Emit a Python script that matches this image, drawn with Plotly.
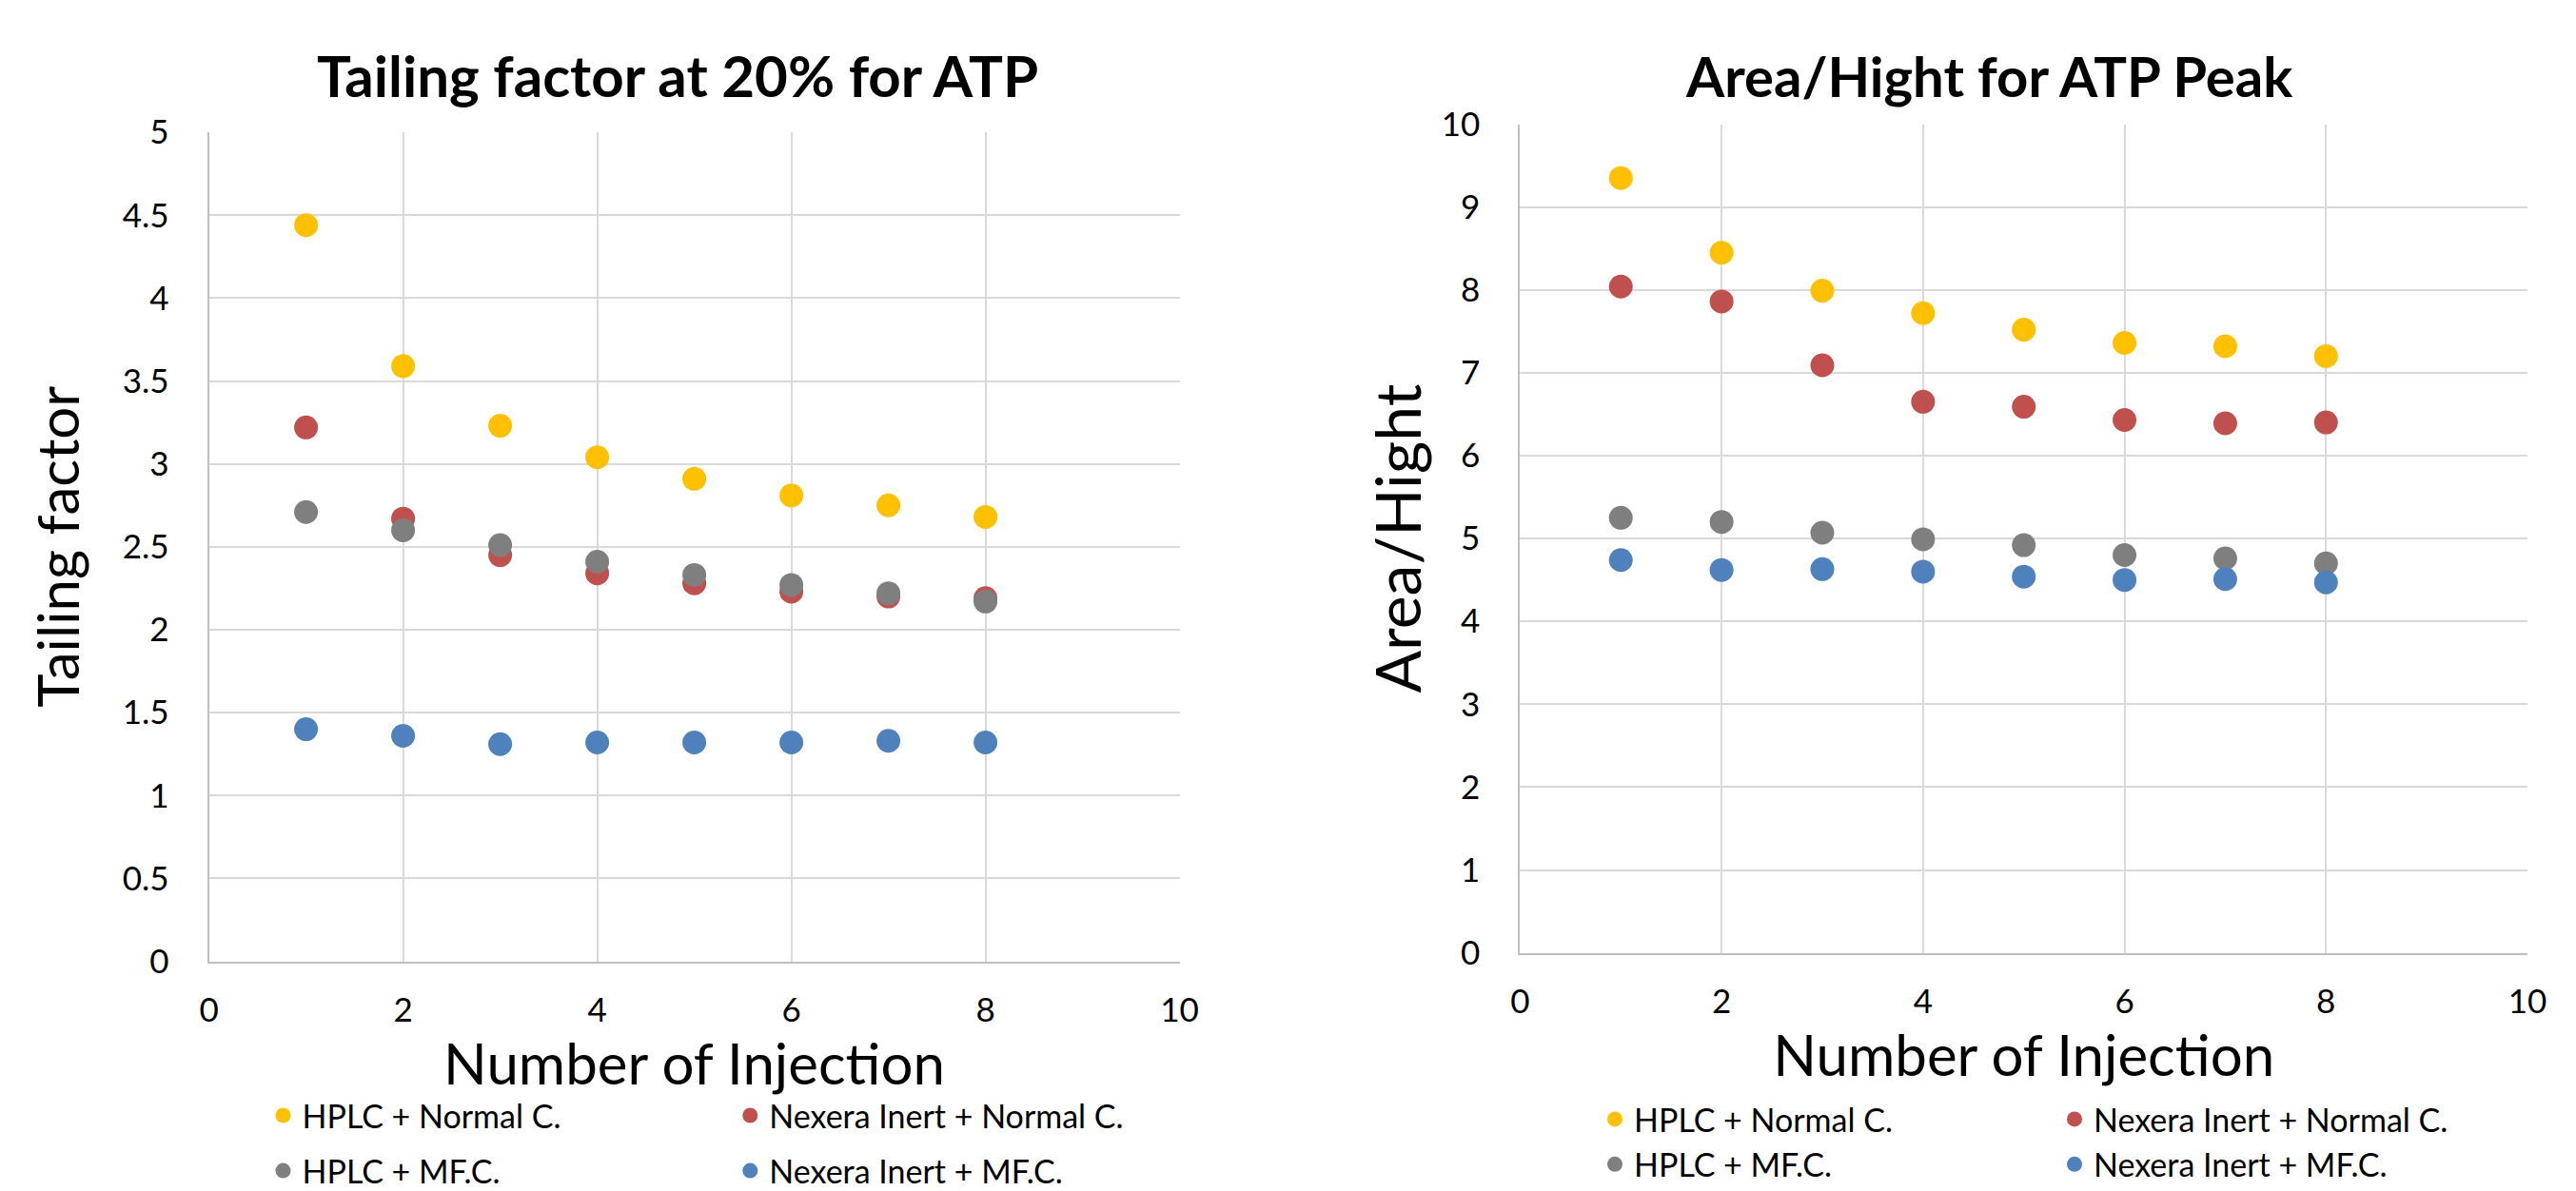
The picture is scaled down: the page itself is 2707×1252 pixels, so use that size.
import plotly.graph_objects as go

W, H = 2707, 1252

injections = [1, 2, 3, 4, 5, 6, 7, 8]
series_names = ["HPLC + Normal C.", "Nexera Inert + Normal C.",
                "HPLC + MF.C.", "Nexera Inert + MF.C."]
series_colors = ["#FFC000", "#C0504D", "#7F7F7F", "#4F81BD"]

# Left chart: Tailing factor at 20% for ATP
tailing_hplc_normal = [4.44, 3.59, 3.23, 3.04, 2.91, 2.81, 2.75, 2.68]
tailing_nexera_normal = [3.22, 2.67, 2.45, 2.34, 2.28, 2.23, 2.20, 2.19]
tailing_hplc_mf = [2.71, 2.60, 2.51, 2.41, 2.33, 2.27, 2.22, 2.17]
tailing_nexera_mf = [1.40, 1.36, 1.31, 1.32, 1.32, 1.32, 1.33, 1.32]

# Right chart: Area/Hight for ATP Peak
ah_hplc_normal = [9.35, 8.45, 7.99, 7.72, 7.52, 7.36, 7.32, 7.20]
ah_nexera_normal = [8.04, 7.86, 7.09, 6.65, 6.59, 6.43, 6.39, 6.40]
ah_hplc_mf = [5.25, 5.20, 5.07, 4.99, 4.92, 4.80, 4.76, 4.70]
ah_nexera_mf = [4.74, 4.62, 4.63, 4.60, 4.54, 4.50, 4.51, 4.47]

x_ticks = [0, 2, 4, 6, 8, 10]
y1_ticks = [0, 0.5, 1, 1.5, 2, 2.5, 3, 3.5, 4, 4.5, 5]
y2_ticks = [0, 1, 2, 3, 4, 5, 6, 7, 8, 9, 10]

left_series = [tailing_hplc_normal, tailing_nexera_normal, tailing_hplc_mf, tailing_nexera_mf]
right_series = [ah_hplc_normal, ah_nexera_normal, ah_hplc_mf, ah_nexera_mf]

FONT = "Lato, 'Open Sans', sans-serif"

fig = go.Figure()

# legend layout: (marker centre x, row centre y) in pixels for each series
left_legend_pos = [(291.5, 1179), (782.3, 1179), (291.5, 1238), (782.3, 1238)]
right_legend_pos = [(1691, 1183), (2174, 1183), (1691, 1231), (2174, 1231)]

legend_layouts = {}
n = 1
for panel, (series_list, xa, ya, positions) in enumerate([
        (left_series, "x", "y", left_legend_pos),
        (right_series, "x2", "y2", right_legend_pos)]):
    for name, vals, col, pos in zip(series_names, series_list, series_colors, positions):
        lname = "legend" if n == 1 else f"legend{n}"
        fig.add_trace(go.Scatter(
            x=injections, y=vals, mode="markers", name=name,
            marker=dict(color=col, size=25, line=dict(width=0)),
            xaxis=xa, yaxis=ya, legend=lname, showlegend=True,
        ))
        legend_layouts[lname] = dict(
            x=(pos[0] - 22) / W, y=1 - pos[1] / H,
            xanchor="left", yanchor="middle",
            orientation="v", bgcolor="rgba(0,0,0,0)", borderwidth=0,
            font=dict(family=FONT, size=34, color="#000000"),
            itemsizing="trace",
        )
        n += 1

axis_common = dict(
    showgrid=True, gridcolor="#D9D9D9", gridwidth=1.5,
    showline=True, linecolor="#BFBFBF", linewidth=2,
    zeroline=False, ticks="", automargin=False,
    tickfont=dict(family=FONT, size=35, color="#000000"),
)

fig.update_layout(
    width=W, height=H,
    margin=dict(l=0, r=0, t=0, b=0),
    paper_bgcolor="white", plot_bgcolor="white",
    font=dict(family=FONT, color="#000000"),
    xaxis=dict(domain=[211.6 / W, 1231.6 / W], range=[0, 10], tickvals=x_ticks,
               anchor="y",
               title=dict(text="Number of Injection", standoff=0,
                          font=dict(family=FONT, size=60, color="#000000")),
               ticklabelstandoff=19, **axis_common),
    yaxis=dict(domain=[1 - 1014.7 / H, 1 - 132.7 / H], range=[0, 5], tickvals=y1_ticks,
               anchor="x",
               title=dict(text="Tailing factor", standoff=26,
                          font=dict(family=FONT, size=60, color="#000000")),
               ticklabelstandoff=33, **axis_common),
    xaxis2=dict(domain=[1589.4 / W, 2648.0 / W], range=[0, 10], tickvals=x_ticks,
                anchor="y2",
                title=dict(text="Number of Injection", standoff=0,
                           font=dict(family=FONT, size=60, color="#000000")),
                ticklabelstandoff=19, **axis_common),
    yaxis2=dict(domain=[1 - 1005.7 / H, 1 - 124.0 / H], range=[0, 10], tickvals=y2_ticks,
                anchor="x2",
                title=dict(text="Area/Hight", standoff=0,
                           font=dict(family=FONT, size=66, color="#000000")),
                ticklabelstandoff=33, **axis_common),
    annotations=[
        dict(text="<b>Tailing factor at 20% for ATP</b>", x=704 / W, y=1 - 72 / H,
             xref="paper", yref="paper", xanchor="center", yanchor="middle",
             showarrow=False, font=dict(family=FONT, size=60, color="#000000")),
        dict(text="<b>Area/Hight for ATP Peak</b>", x=2082 / W, y=1 - 72 / H,
             xref="paper", yref="paper", xanchor="center", yanchor="middle",
             showarrow=False, font=dict(family=FONT, size=58, color="#000000")),
    ],
    **legend_layouts,
)

fig.write_html("out.html")
